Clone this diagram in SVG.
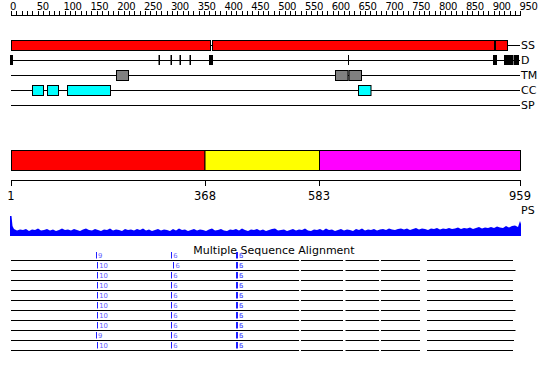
<svg xmlns="http://www.w3.org/2000/svg" width="550" height="380" viewBox="0 0 550 380">
<style>
text{font-family:"DejaVu Sans","Liberation Sans",sans-serif;fill:#000}
.rl{font-size:10px;letter-spacing:-0.4px}
.lab{font-size:11px}
.num{font-size:11.5px;text-anchor:middle}
.ln{stroke:#000;stroke-width:1;fill:none}
.box{stroke:#000;stroke-width:1}
.ss{fill:#ff0000}
.tm{fill:#808080}
.cc{fill:#00ffff}
.mk{fill:#000}
.bt{stroke:#2020ff;stroke-width:1}
.bl{font-size:6.8px;fill:#6262ff}
</style>
<rect width="550" height="380" fill="#fff"/>
<g id="ruler">
<path class="ln" d="M11,15.5H521"/>
<path class="ln" d="M11.5,11V15M16.5,11V15M22.5,11V15M27.5,11V15M32.5,11V15M38.5,11V15M43.5,11V15M49.5,11V15M54.5,11V15M59.5,11V15M65.5,11V15M70.5,11V15M75.5,11V15M81.5,11V15M86.5,11V15M91.5,11V15M97.5,11V15M102.5,11V15M108.5,11V15M113.5,11V15M118.5,11V15M124.5,11V15M129.5,11V15M134.5,11V15M140.5,11V15M145.5,11V15M150.5,11V15M156.5,11V15M161.5,11V15M167.5,11V15M172.5,11V15M177.5,11V15M183.5,11V15M188.5,11V15M193.5,11V15M199.5,11V15M204.5,11V15M209.5,11V15M215.5,11V15M220.5,11V15M226.5,11V15M231.5,11V15M236.5,11V15M242.5,11V15M247.5,11V15M252.5,11V15M258.5,11V15M263.5,11V15M268.5,11V15M274.5,11V15M279.5,11V15M285.5,11V15M290.5,11V15M295.5,11V15M301.5,11V15M306.5,11V15M311.5,11V15M317.5,11V15M322.5,11V15M327.5,11V15M333.5,11V15M338.5,11V15M344.5,11V15M349.5,11V15M354.5,11V15M360.5,11V15M365.5,11V15M370.5,11V15M376.5,11V15M381.5,11V15M386.5,11V15M392.5,11V15M397.5,11V15M403.5,11V15M408.5,11V15M413.5,11V15M419.5,11V15M424.5,11V15M429.5,11V15M435.5,11V15M440.5,11V15M445.5,11V15M451.5,11V15M456.5,11V15M462.5,11V15M467.5,11V15M472.5,11V15M478.5,11V15M483.5,11V15M488.5,11V15M494.5,11V15M499.5,11V15M504.5,11V15M510.5,11V15M515.5,11V15M520.5,11V15"/>
<text class="rl" x="10" y="10">0</text>
<text class="rl" x="36.8" y="10">50</text>
<text class="rl" x="63.6" y="10">100</text>
<text class="rl" x="90.4" y="10">150</text>
<text class="rl" x="117.3" y="10">200</text>
<text class="rl" x="144.1" y="10">250</text>
<text class="rl" x="170.9" y="10">300</text>
<text class="rl" x="197.7" y="10">350</text>
<text class="rl" x="224.5" y="10">400</text>
<text class="rl" x="251.3" y="10">450</text>
<text class="rl" x="278.2" y="10">500</text>
<text class="rl" x="305" y="10">550</text>
<text class="rl" x="331.8" y="10">600</text>
<text class="rl" x="358.6" y="10">650</text>
<text class="rl" x="385.4" y="10">700</text>
<text class="rl" x="412.2" y="10">750</text>
<text class="rl" x="439.1" y="10">800</text>
<text class="rl" x="465.9" y="10">850</text>
<text class="rl" x="492.7" y="10">900</text>
<text class="rl" x="519.5" y="10">950</text>
</g>
<g id="track-SS">
<path class="ln" d="M11,45.5H520"/>
<rect class="box ss" x="11.5" y="40.5" width="199" height="10"/>
<rect class="box ss" x="212.5" y="40.5" width="282" height="10"/>
<rect class="box ss" x="495.5" y="40.5" width="12" height="10"/>
<text class="lab" x="521" y="49">SS</text>
</g>
<g id="track-D">
<path class="ln" d="M11,60.5H520"/>
<rect class="mk" x="10" y="55" width="3" height="10"/>
<rect class="mk" x="158.5" y="55" width="1.5" height="10"/>
<rect class="mk" x="170.5" y="55" width="1.5" height="10"/>
<rect class="mk" x="179.5" y="55" width="1.5" height="10"/>
<rect class="mk" x="189.5" y="55" width="1.5" height="10"/>
<rect class="mk" x="209" y="55" width="4" height="10"/>
<rect class="mk" x="348" y="55" width="1" height="10"/>
<rect class="mk" x="493" y="55" width="4" height="10"/>
<rect class="mk" x="504" y="55" width="9.5" height="10"/>
<rect class="mk" x="514" y="55" width="5" height="10"/>
<text class="lab" x="521" y="64">D</text>
</g>
<g id="track-TM">
<path class="ln" d="M11,75.5H520"/>
<rect class="box tm" x="116.5" y="70.5" width="12" height="10"/>
<rect class="box tm" x="335.5" y="70.5" width="12.5" height="10"/>
<rect class="box tm" x="349" y="70.5" width="12.5" height="10"/>
<text class="lab" x="521" y="79">TM</text>
</g>
<g id="track-CC">
<path class="ln" d="M11,90.5H520"/>
<rect class="box cc" x="32.5" y="85.5" width="11" height="10"/>
<rect class="box cc" x="47.5" y="85.5" width="11" height="10"/>
<rect class="box cc" x="67.5" y="85.5" width="43" height="10"/>
<rect class="box cc" x="358.5" y="85.5" width="12.5" height="10"/>
<text class="lab" x="521" y="94">CC</text>
</g>
<g id="track-SP">
<path class="ln" d="M11,105.5H520"/>
<text class="lab" x="521" y="109">SP</text>
</g>
<g id="domains">
<rect class="box" fill="#ff0000" x="11.5" y="150.5" width="193.5" height="20"/>
<rect class="box" fill="#ffff00" x="205" y="150.5" width="114.5" height="20"/>
<rect class="box" fill="#ff00ff" x="319.5" y="150.5" width="201" height="20"/>
</g>
<g id="scale">
<path class="ln" d="M11,180.5H521M11.5,180.5V186M205.5,180.5V186M319.5,180.5V186M520.5,180.5V186"/>
<text class="num" x="11" y="200">1</text>
<text class="num" x="205" y="200">368</text>
<text class="num" x="319" y="200">583</text>
<text class="num" x="520" y="200">959</text>
<text class="lab" x="521" y="214">PS</text>
</g>
<g id="profile">
<polygon fill="#0000ff" points="10,236 10,216 11.5,216 12.5,226 14,229 17,230.5 20,229.5 23,230 26,229 29,231 32,229.5 35,230 38,228.5 41,230.5 44,230 47,229 50,230.5 53,229.5 56,231 59,230 62,228.5 65,230 68,229.5 71,230.5 74,229 77,230 80,231 83,229.5 86,228.5 89,230 92,230.5 95,229 98,230 101,231 104,229.5 107,230 110,228.5 113,230.5 116,229.5 119,230 122,231 125,229 128,230 131,229.5 134,230.5 137,229 140,230 143,228.5 146,230.5 149,229.5 152,231 155,230 158,229 161,230.5 164,229.5 167,230 170,231 173,229 176,230.5 179,228.5 182,230 185,229.5 188,231 191,230 194,229 197,230.5 200,229.5 203,230 206,231 209,229.5 212,228.5 215,230.5 218,230 221,229 224,230.5 227,231 230,229.5 233,230 236,229 239,230.5 242,228.5 245,230 248,231 251,229.5 254,230 257,229 260,230.5 263,229.5 266,231 269,230 272,229 275,228.5 278,230.5 281,230 284,229.5 287,231 290,230 293,229 296,230.5 299,229.5 302,230 305,228.5 308,230.5 311,231 314,229.5 317,230 320,229 323,230.5 326,228.5 329,230 332,229.5 335,231 338,230 341,229 344,230.5 347,229.5 350,230 353,231 356,229 359,230 362,228.5 365,230.5 368,229.5 371,230 374,229 377,230.5 380,229.5 383,229 386,230 389,228.5 392,229.5 395,230 398,229 401,228.5 404,229.5 407,228.5 410,230 413,229 416,228 419,229.5 422,228.5 425,229 428,230 431,228.5 434,229 437,228 440,229.5 443,228.5 446,229 449,228 452,229 455,228.5 458,227.5 461,229 464,228 467,228.5 470,227.5 473,229 476,228 479,227 482,228.5 485,227.5 488,228 491,227 494,228 497,226.5 500,227.5 503,228 506,226 509,227.5 512,226 515,225.5 518,227 519,224 520,221 521,224 521,236"/>
</g>
<g id="msa">
<text class="lab" x="274" y="253.5" text-anchor="middle">Multiple Sequence Alignment</text>
<path class="ln" d="M11,260.5H299M301,260.5H343M345.5,260.5H379M381,260.5H420M427,260.5H513
M11,270.5H299M301,270.5H343M345.5,270.5H379M381,270.5H420M427,270.5H515.5
M11,280.5H299M301,280.5H343M345.5,280.5H379M381,280.5H420M427,280.5H513
M11,290.5H299M301,290.5H343M345.5,290.5H379M381,290.5H420M427,290.5H513
M11,300.5H299M301,300.5H343M345.5,300.5H379M381,300.5H420M427,300.5H513
M11,310.5H299M301,310.5H343M345.5,310.5H379M381,310.5H420M427,310.5H515.5
M11,320.5H299M301,320.5H343M345.5,320.5H379M381,320.5H420M427,320.5H513
M11,330.5H299M301,330.5H343M345.5,330.5H379M381,330.5H420M427,330.5H515.5
M11,340.5H299M301,340.5H343M345.5,340.5H379M381,340.5H420M427,340.5H514
M11,350.5H299M301,350.5H343M345.5,350.5H379M381,350.5H420M427,350.5H513"/>
<path class="bt" d="M96.5,252V258.5M171.5,252V258.5M236.5,252V258.5M237.5,252V258.5
M97.5,262V268.5M173.5,262V268.5M236.5,262V268.5M237.5,262V268.5
M97.5,272V278.5M171.5,272V278.5M236.5,272V278.5M237.5,272V278.5
M97.5,282V288.5M171.5,282V288.5M236.5,282V288.5M237.5,282V288.5
M97.5,292V298.5M171.5,292V298.5M236.5,292V298.5M237.5,292V298.5
M97.5,302V308.5M171.5,302V308.5M236.5,302V308.5M237.5,302V308.5
M97.5,312V318.5M171.5,312V318.5M236.5,312V318.5M237.5,312V318.5
M97.5,322V328.5M171.5,322V328.5M236.5,322V328.5M237.5,322V328.5
M96.5,332V338.5M171.5,332V338.5M236.5,332V338.5M237.5,332V338.5
M97.5,342V348.5M171.5,342V348.5M236.5,342V348.5M237.5,342V348.5"/>
<text class="bl" x="98" y="257.5">9</text><text class="bl" x="173.3" y="257.5">6</text><text class="bl" x="239" y="257.5">5</text><text class="bl" x="239" y="257.5">6</text>
<text class="bl" x="99.3" y="267.5">10</text><text class="bl" x="175.6" y="267.5">6</text><text class="bl" x="239" y="267.5">5</text><text class="bl" x="239" y="267.5">6</text>
<text class="bl" x="99.3" y="277.5">10</text><text class="bl" x="173.3" y="277.5">6</text><text class="bl" x="239" y="277.5">5</text><text class="bl" x="239" y="277.5">6</text>
<text class="bl" x="99.3" y="287.5">10</text><text class="bl" x="173.3" y="287.5">6</text><text class="bl" x="239" y="287.5">5</text><text class="bl" x="239" y="287.5">6</text>
<text class="bl" x="99.3" y="297.5">10</text><text class="bl" x="173.3" y="297.5">6</text><text class="bl" x="239" y="297.5">5</text><text class="bl" x="239" y="297.5">6</text>
<text class="bl" x="99.3" y="307.5">10</text><text class="bl" x="173.3" y="307.5">6</text><text class="bl" x="239" y="307.5">5</text><text class="bl" x="239" y="307.5">6</text>
<text class="bl" x="99.3" y="317.5">10</text><text class="bl" x="173.3" y="317.5">6</text><text class="bl" x="239" y="317.5">5</text><text class="bl" x="239" y="317.5">6</text>
<text class="bl" x="99.3" y="327.5">10</text><text class="bl" x="173.3" y="327.5">6</text><text class="bl" x="239" y="327.5">5</text><text class="bl" x="239" y="327.5">6</text>
<text class="bl" x="98" y="337.5">9</text><text class="bl" x="173.3" y="337.5">6</text><text class="bl" x="239" y="337.5">5</text><text class="bl" x="239" y="337.5">6</text>
<text class="bl" x="99.3" y="347.5">10</text><text class="bl" x="173.3" y="347.5">6</text><text class="bl" x="239" y="347.5">5</text><text class="bl" x="239" y="347.5">6</text>
</g>
</svg>
